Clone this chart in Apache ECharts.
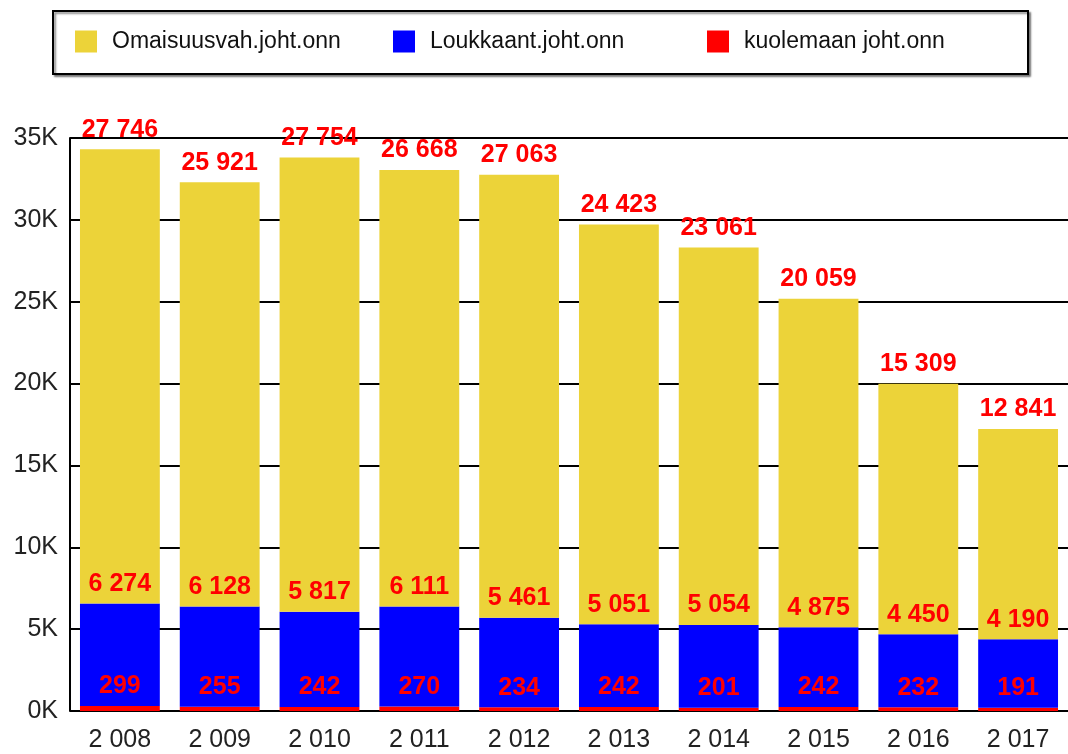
<!DOCTYPE html>
<html>
<head>
<meta charset="utf-8">
<script src="https://cdn.jsdelivr.net/npm/echarts@6/dist/echarts.min.js"></script>
<style>
html, body { margin: 0; padding: 0; background: #fff; }
#main { width: 1068px; height: 754px; }
</style>
</head>
<body>
<div id="main"></div>
<script>
var years = [2008, 2009, 2010, 2011, 2012, 2013, 2014, 2015, 2016, 2017];
var omaisuus = [27746, 25921, 27754, 26668, 27063, 24423, 23061, 20059, 15309, 12841];
var loukkaant = [6274, 6128, 5817, 6111, 5461, 5051, 5054, 4875, 4450, 4190];
var kuolemaan = [299, 255, 242, 270, 234, 242, 201, 242, 232, 191];

var chart1 = {};

function spaced(v) {
	// tuhaterotin välilyönnillä
	return String(v).replace(/\B(?=(\d{3})+(?!\d))/g, ' ');
}

function makeSeries(name, data, color) {
	return {
		name: name,
		type: 'bar',
		stack: 'all',
		barWidth: '80%',
		data: data,
		itemStyle: { color: color },
		label: {
			show: true,
			position: 'top',
			distance: 7,
			color: '#ff0000',
			fontWeight: 'bold',
			fontSize: 25,
			fontFamily: 'Liberation Sans, Arial, sans-serif',
			formatter: function (p) { return spaced(p.value); }
		}
	};
}

function legendAt(name, x) {
	return {
		data: [name],
		left: x,
		top: 30,
		padding: 0,
		itemWidth: 22,
		itemHeight: 22,
		icon: 'rect',
		textStyle: { color: '#111', fontSize: 23, fontFamily: 'Liberation Sans, Arial, sans-serif', padding: [0, 0, 0, 10] }
	};
}

function chartInit() {
	var dom = document.getElementById('main');
	chart1 = echarts.init(dom);
	var option = {
		animation: false,
		color: ['#ecd339', '#0000ff', '#ff0000'],
		graphic: [{
			type: 'rect',
			left: 52,
			top: 10,
			shape: { width: 975, height: 63 },
			style: { fill: '#fff', stroke: '#000', lineWidth: 2, shadowColor: 'rgba(0,0,0,0.45)', shadowOffsetX: 2, shadowOffsetY: 2, shadowBlur: 2 },
			z: -1
		}],
		legend: [
			legendAt('Omaisuusvah.joht.onn', 75),
			legendAt('Loukkaant.joht.onn', 393),
			legendAt('kuolemaan joht.onn', 707)
		],
		grid: { left: 70, top: 138, width: 1000, bottom: 43 },
		xAxis: {
			type: 'category',
			data: years,
			axisLine: { show: false },
			axisTick: { show: false },
			axisLabel: {
				margin: 17,
				color: '#222',
				fontSize: 25,
				fontFamily: 'Liberation Sans, Arial, sans-serif',
				formatter: function (v) { return spaced(v); }
			}
		},
		yAxis: {
			type: 'value',
			min: 0,
			max: 35000,
			interval: 5000,
			axisLine: { show: true, lineStyle: { color: '#000', width: 2 } },
			axisTick: { show: false },
			splitLine: { show: true, lineStyle: { color: '#000', width: 2 } },
			axisLabel: {
				margin: 12,
				color: '#222',
				fontSize: 25,
				fontFamily: 'Liberation Sans Narrow, Liberation Sans, Arial, sans-serif',
				formatter: function (v) { return (v / 1000) + 'K'; }
			}
		},
		series: [
			makeSeries('kuolemaan joht.onn', kuolemaan, '#ff0000'),
			makeSeries('Loukkaant.joht.onn', loukkaant, '#0000ff'),
			makeSeries('Omaisuusvah.joht.onn', omaisuus, '#ecd339')
		]
	};
	chart1.setOption(option, true);
}

chartInit();

window.addEventListener('resize', function () {
	chart1.resize();
});
</script>
</body>
</html>
